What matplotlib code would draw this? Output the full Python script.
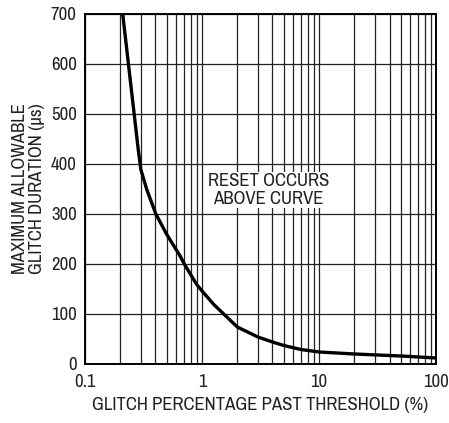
import matplotlib
matplotlib.use("Agg")
import matplotlib.pyplot as plt
from matplotlib import font_manager
from matplotlib.ticker import FixedLocator, NullFormatter

# curve
glitch_pct = [0.21, 0.235, 0.263, 0.285, 0.296, 0.3, 0.337, 0.403, 0.5, 0.6, 0.65, 0.705,
              0.9, 1.0, 1.26, 2.0, 3.0, 4.0, 5.0, 7.0, 10.0, 20.0, 50.0, 100.0]
duration_us = [700, 600, 500, 429, 400, 389, 349, 300, 259, 229, 216, 200,
               159, 146, 119, 74, 54, 44, 37, 29, 24, 20, 16, 12]

x_ticks = [0.1, 1, 10, 100]
x_ticklabels = ["0.1", "1", "10", "100"]
y_ticks = [0, 100, 200, 300, 400, 500, 600, 700]

# narrow sans like the datasheet font, whichever is installed
have = {f.name for f in font_manager.fontManager.ttflist}
narrow = [n for n in ['Liberation Sans Narrow', 'Arial Narrow', 'Archivo Narrow',
                      'Roboto Condensed', 'PT Sans Narrow', 'Pragati Narrow'] if n in have]
if narrow:
    plt.rcParams['font.family'] = [narrow[0], 'DejaVu Sans']
else:
    plt.rcParams['font.family'] = ['DejaVu Sans']
    plt.rcParams['font.stretch'] = 'condensed'

fs = 13.5

fig = plt.figure(figsize=(4.49, 4.23), dpi=100)
ax = fig.add_axes([0.1893, 0.1395, 0.782, 0.8275])

ax.plot(glitch_pct, duration_us, color='black', lw=2.4, solid_capstyle='butt',
        solid_joinstyle='round', zorder=3)

ax.set_xscale('log')
ax.set_xlim(0.1, 100)
ax.set_ylim(0, 700)

minor = [m * d for d in (0.1, 1, 10) for m in range(2, 10)]
ax.xaxis.set_major_locator(FixedLocator(x_ticks))
ax.xaxis.set_minor_locator(FixedLocator(minor))
ax.xaxis.set_minor_formatter(NullFormatter())
ax.set_xticks(x_ticks, x_ticklabels)
ax.set_yticks(y_ticks)

ax.grid(True, which='both', axis='x', color='#222222', lw=0.9)
ax.grid(True, which='major', axis='y', color='#222222', lw=0.9)
ax.tick_params(which='both', length=0, labelsize=fs, colors='#222222')
ax.tick_params(axis='x', pad=7)
ax.tick_params(axis='y', pad=6)

for s in ax.spines.values():
    s.set_linewidth(1.4)

ax.set_xlabel("GLITCH PERCENTAGE PAST THRESHOLD (%)", fontsize=fs, color='#222222', labelpad=5)
ax.set_ylabel("MAXIMUM ALLOWABLE\nGLITCH DURATION (µs)", fontsize=fs, color='#222222',
              linespacing=1.1, labelpad=4)

ax.text(3.7, 348, "RESET OCCURS\nABOVE CURVE", ha='center', va='center', fontsize=fs,
        color='#222222', linespacing=1.1,
        bbox=dict(facecolor='white', edgecolor='none', pad=1))

fig.savefig("out.png", dpi=100)
